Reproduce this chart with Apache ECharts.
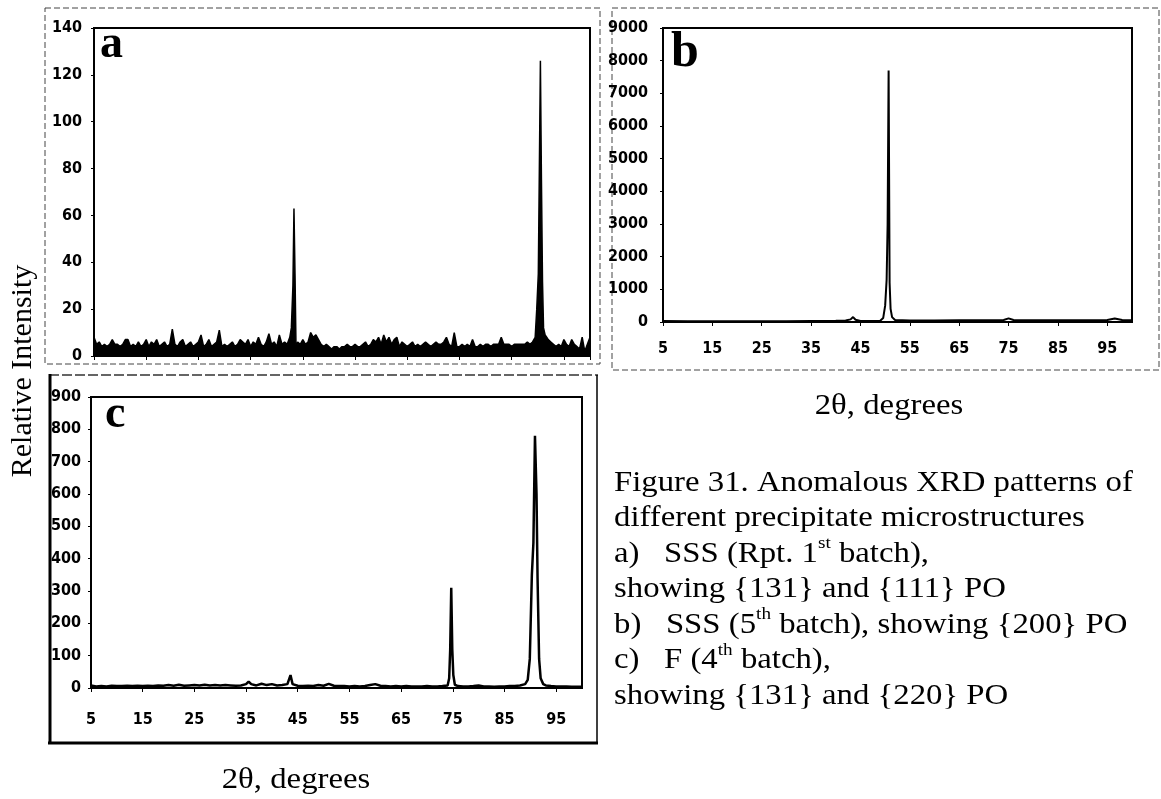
<!DOCTYPE html>
<html>
<head>
<meta charset="utf-8">
<script src="https://cdn.jsdelivr.net/npm/echarts@6/dist/echarts.min.js"></script>
<style>
html,body{margin:0;padding:0;background:#fff;}
#chart{width:1161px;height:799px;}
</style>
</head>
<body>
<div id="chart"></div>
<script>
// ---------- Panel a: SSS (Rpt. 1st batch) ----------
const thetaA = [5,5.5,6,6.5,7,7.5,8,8.5,9,9.5,10,10.5,11,11.5,12,12.5,13,13.5,14,14.5,15,15.5,16,16.5,17,17.5,18,18.5,19,19.5,20,20.5,21,21.5,22,22.5,23,23.5,24,24.5,25,25.5,26,26.5,27,27.5,28,28.5,29,29.5,30,30.5,31,31.5,32,32.5,33,33.5,34,34.5,35,35.5,36,36.5,37,37.5,38,38.5,39,39.5,40,40.5,41,41.5,42,42.5,42.8,43.1,43.3,43.5,43.7,44,44.5,45,45.5,46,46.5,47,47.5,48,48.5,49,49.5,50,50.5,51,51.5,52,52.5,53,53.5,54,54.5,55,55.5,56,56.5,57,57.5,58,58.5,59,59.5,60,60.5,61,61.5,62,62.5,63,63.5,64,64.5,65,65.5,66,66.5,67,67.5,68,68.5,69,69.5,70,70.5,71,71.5,72,72.5,73,73.5,74,74.5,75,75.5,76,76.5,77,77.5,78,78.5,79,79.5,80,80.5,81,81.5,82,82.5,83,83.5,84,84.5,85,85.5,86,86.5,87,87.5,88,88.5,89,89.5,89.8,90.1,90.3,90.5,90.7,90.9,91.1,91.4,91.7,92,92.5,93,93.5,94,94.5,95,95.5,96,96.5,97,97.5,98,98.5,99,99.5,100];
const intensityA = [8,5,6,4,5,4,5,7,5,5,4,5,7,7,4,5,4,6,4,5,7,4,6,5,7,4,5,6,4,5,11.5,5,4,6,7,4,5,6,4,5,6,9,4,5,7,4,5,6,11,4,5,4,5,6,4,5,7,6,5,7,4,6,5,8,5,4,6,9.5,5,6,4,9,5,6,5,8,12,30,63,35,2,6,5,7,5,6,10,8,9,7,5,4,5,4,3,4,4,3,4,4,5,4,4,5,4,4,5,6,4,5,7,6,8,5,9,6,8,5,7,8,4,6,5,4,5,6,4,5,4,5,6,5,4,5,6,5,5,6,8,5,4,10,4,4,5,4,5,4,7,4,4,5,4,5,5,4,5,5,5,8,5,5,5,4,5,5,5,5,5,6,5,6,8,20,35,80,126,75,32,12,9,8,7,6,5,4,5,4,7,5,4,7,5,4,3,8,2,5,8,8];

// ---------- Panel b: SSS (5th batch) ----------
const thetaB = [5,10,15,20,25,30,35,40,42,43,43.5,44,45,48,49,49.6,50,50.3,50.5,50.7,50.9,51.1,51.4,52,55,60,65,70,74,75,76,80,85,90,95,96.5,98,100];
const intensityB = [30,25,25,20,20,25,30,35,45,80,150,70,30,30,40,120,500,1300,3000,7700,1200,400,150,60,45,45,50,50,60,110,60,55,55,55,60,110,60,55];

// ---------- Panel c: F (4th batch) ----------
const thetaC = [5,6,7,8,9,10,11,12,13,14,15,16,17,18,19,20,21,22,23,24,25,26,27,28,29,30,31,32,33,34,35,35.5,36,37,38,39,40,41,42,43,43.6,44,45,46,47,48,49,50,51,52,53,54,55,56,57,58,59,60,61,62,63,64,65,66,67,68,69,70,71,72,73,74,74.3,74.5,74.7,74.9,75.1,75.4,76,77,78,79,80,81,82,83,84,85,86,87,88,89,89.5,89.9,90.3,90.6,90.9,91.2,91.4,91.7,92,92.5,93,94,95,96,97,98,99,100];
const intensityC = [8,5,6,5,7,6,6,7,6,7,6,7,6,8,7,9,7,10,7,8,9,8,10,8,9,8,9,8,7,8,12,20,12,8,13,9,12,8,9,12,40,12,7,6,7,6,9,7,13,7,6,6,5,6,5,6,9,12,7,6,5,6,5,6,5,5,5,6,5,5,6,8,30,120,310,120,40,10,6,5,5,6,8,5,5,4,5,5,6,6,8,12,25,90,350,450,780,600,340,90,30,12,8,6,5,5,5,4,4,4];

// ---------- Axis ticks / labels ----------
const xTickStart = 5, xTickStep = 10, xMax = 100;
const yMaxA = 140, yStepA = 20;
const yMaxB = 9000, yStepB = 1000;
const yMaxC = 900, yStepC = 100;

const panelLetters = ['a', 'b', 'c'];
const yAxisTitle = 'Relative Intensity';
const xAxisTitle = '2θ, degrees';
// each line: list of [kind, text]; kind 'n' = normal, 's' = superscript
const captionLines = [
  [['n','Figure 31. Anomalous XRD patterns of']],
  [['n','different precipitate microstructures']],
  [['n','a)   SSS (Rpt. 1'],['s','st'],['n',' batch),']],
  [['n','showing {131} and {111} PO']],
  [['n','b)   SSS (5'],['s','th'],['n',' batch), showing {200} PO']],
  [['n','c)   F (4'],['s','th'],['n',' batch),']],
  [['n','showing {131} and {220} PO']]
];

function pairs(xs, ys) { return xs.map((x, i) => [x, ys[i]]); }

const tickFont = {
  fontFamily: "'Liberation Sans Narrow','Arial Narrow','DejaVu Sans Condensed',sans-serif",
  fontWeight: 'bold', fontSize: 16, color: '#000'
};
const serif = "'Liberation Serif','Times New Roman',serif";
const capFont = 29, supFont = 17, stretch = 1.13;

const measureCtx = document.createElement('canvas').getContext('2d');
function textWidth(txt, size) {
  measureCtx.font = size + 'px ' + serif;
  return measureCtx.measureText(txt).width;
}

function xAxis(gridIndex, showLabels, margin) {
  return {
    type: 'value', gridIndex, min: xTickStart, max: xMax, interval: xTickStep,
    axisLine: { show: true, lineStyle: { color: '#000', width: 2 } },
    axisTick: { show: true, length: 4, lineStyle: { color: '#000', width: 1 } },
    splitLine: { show: false },
    axisLabel: Object.assign({ show: showLabels, margin, showMaxLabel: false, formatter: v => String(v) }, tickFont)
  };
}
function yAxis(gridIndex, max, step, margin) {
  return {
    type: 'value', gridIndex, min: 0, max, interval: step,
    axisLine: { show: true, lineStyle: { color: '#000', width: 2 } },
    axisTick: { show: true, length: 3, lineStyle: { color: '#000', width: 1 } },
    splitLine: { show: false },
    axisLabel: Object.assign({ margin, formatter: v => String(v) }, tickFont)
  };
}

const graphics = [
  // panel frames
  { type: 'rect', shape: { x: 45, y: 8, width: 555, height: 356 }, style: { fill: 'none', stroke: '#444', lineWidth: 1, lineDash: [6, 3] } },
  { type: 'rect', shape: { x: 612, y: 8, width: 547, height: 362 }, style: { fill: 'none', stroke: '#444', lineWidth: 1, lineDash: [6, 3] } },
  { type: 'line', shape: { x1: 49, y1: 375, x2: 598, y2: 375 }, style: { stroke: '#333', lineWidth: 1.5, lineDash: [10, 3] } },
  { type: 'line', shape: { x1: 50, y1: 374, x2: 50, y2: 744 }, style: { stroke: '#000', lineWidth: 3 } },
  { type: 'line', shape: { x1: 48, y1: 743, x2: 598, y2: 743 }, style: { stroke: '#000', lineWidth: 3 } },
  { type: 'line', shape: { x1: 597, y1: 375, x2: 597, y2: 743 }, style: { stroke: '#000', lineWidth: 1.5 } },
  // panel letters
  { type: 'text', left: 100, top: 22, style: { text: panelLetters[0], font: 'bold 46px ' + serif, fill: '#000' } },
  { type: 'text', left: 671, top: 28, style: { text: panelLetters[1], font: 'bold 50px ' + serif, fill: '#000' } },
  { type: 'text', left: 105, top: 392, style: { text: panelLetters[2], font: 'bold 46px ' + serif, fill: '#000' } },
  // axis titles
  { type: 'text', x: 23, y: 371, rotation: Math.PI / 2, style: { text: yAxisTitle, font: '30px ' + serif, fill: '#000', align: 'center', verticalAlign: 'middle' } },
  { type: 'text', x: 889, y: 406, scaleX: stretch, style: { text: xAxisTitle, font: capFont + 'px ' + serif, fill: '#000', align: 'center', verticalAlign: 'middle' } },
  { type: 'text', x: 296, y: 780, scaleX: stretch, style: { text: xAxisTitle, font: capFont + 'px ' + serif, fill: '#000', align: 'center', verticalAlign: 'middle' } }
];

captionLines.forEach((line, i) => {
  const children = [];
  let cx = 0;
  line.forEach(([kind, txt]) => {
    const size = kind === 's' ? supFont : capFont;
    children.push({
      type: 'text', x: cx, y: kind === 's' ? -10 : 0,
      style: { text: txt, font: size + 'px ' + serif, fill: '#000', verticalAlign: 'middle', align: 'left' }
    });
    cx += textWidth(txt, size);
  });
  graphics.push({ type: 'group', x: 614, y: 483 + i * 35.5, scaleX: stretch, children });
});

const chart = echarts.init(document.getElementById('chart'), null, { renderer: 'canvas' });
chart.setOption({
  animation: false,
  backgroundColor: '#fff',
  grid: [
    { left: 94, top: 28, width: 496, height: 328, show: true, borderColor: '#000', borderWidth: 2, backgroundColor: 'transparent' },
    { left: 663, top: 28, width: 469, height: 294, show: true, borderColor: '#000', borderWidth: 2, backgroundColor: 'transparent' },
    { left: 91, top: 397, width: 491, height: 291, show: true, borderColor: '#000', borderWidth: 2, backgroundColor: 'transparent' }
  ],
  xAxis: [xAxis(0, false, 8), xAxis(1, true, 19), xAxis(2, true, 24)],
  yAxis: [yAxis(0, yMaxA, yStepA, 12), yAxis(1, yMaxB, yStepB, 15), yAxis(2, yMaxC, yStepC, 10)],
  series: [
    { type: 'line', xAxisIndex: 0, yAxisIndex: 0, data: pairs(thetaA, intensityA), symbol: 'none',
      lineStyle: { color: '#000', width: 1.5 }, areaStyle: { color: '#000', opacity: 1 } },
    { type: 'line', xAxisIndex: 1, yAxisIndex: 1, data: pairs(thetaB, intensityB), symbol: 'none',
      lineStyle: { color: '#000', width: 2 } },
    { type: 'line', xAxisIndex: 2, yAxisIndex: 2, data: pairs(thetaC, intensityC), symbol: 'none',
      lineStyle: { color: '#000', width: 2.5 } }
  ],
  graphic: graphics
});
</script>
</body>
</html>
